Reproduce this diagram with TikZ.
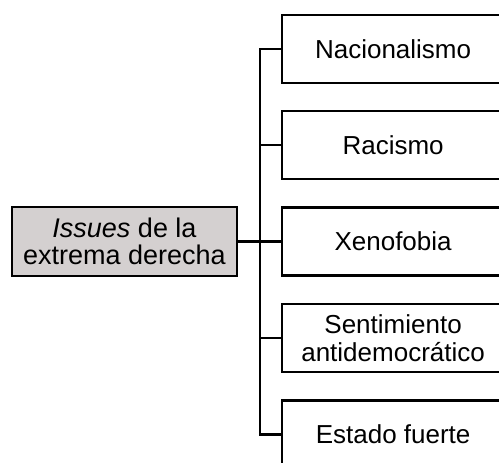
\documentclass[tikz,border=0pt]{standalone}
\usepackage{fontspec}
\setmainfont{Liberation Sans}
\begin{document}
\begin{tikzpicture}[x=1pt,y=-1pt,
  every node/.style={font=\fontsize{26}{27.5}\selectfont, align=center, inner sep=0pt},
  itembox/.style={draw, line width=2.2pt, minimum width=222pt, minimum height=68pt, anchor=west},
  rootbox/.style={draw, line width=2.2pt, fill=rootgray, minimum width=225pt, minimum height=69pt, font=\fontsize{27}{27.5}\selectfont},
  conn/.style={line width=2.2pt}]
\definecolor{rootgray}{RGB}{212,208,208}
\useasboundingbox (0,0) rectangle (499,463);
\clip (0,0) rectangle (499,463);
\node[itembox] (n1) at (281,49) {Nacionalismo};
\node[itembox] (n2) at (281,145) {Racismo};
\node[itembox] (n3) at (281,241.5) {Xenofobia};
\node[itembox] (n4) at (281,338) {Sentimiento\\antidemocrático};
\node[itembox] (n5) at (281,434.5) {Estado fuerte};
\node[rootbox] (root) at (124.5,241.5) {\textit{Issues} de la\\extrema derecha};
\coordinate (trunk) at (260,241.5);
\draw[conn] (n1.west) -- (n1.west -| trunk) -- (n5.west -| trunk) -- (n5.west);
\draw[conn] (n2.west) -- (n2.west -| trunk);
\draw[conn] (n3.west) -- (trunk);
\draw[conn] (n4.west) -- (n4.west -| trunk);
\draw[conn] (root.east) -- (trunk);
\end{tikzpicture}
\end{document}
